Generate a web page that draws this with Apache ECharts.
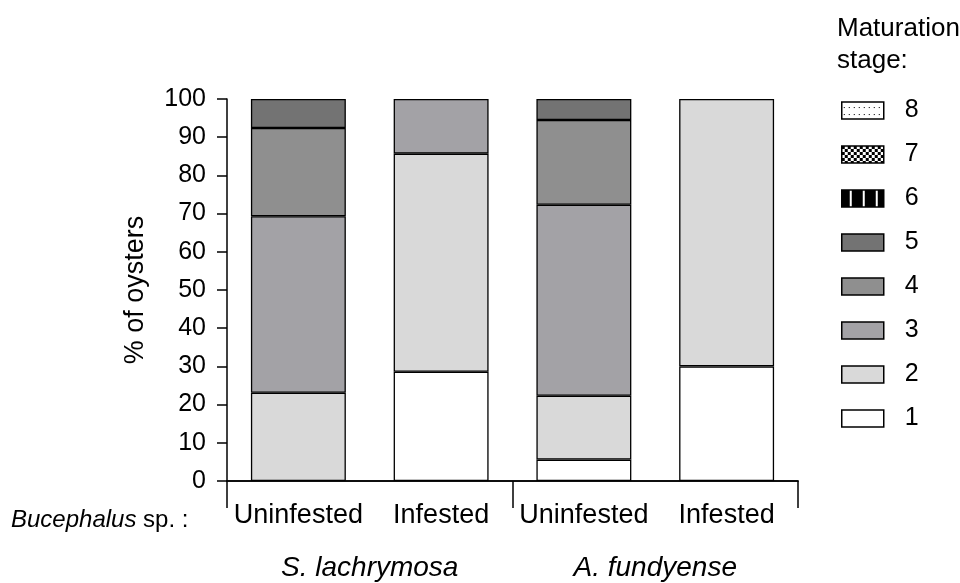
<!DOCTYPE html>
<html>
<head>
<meta charset="utf-8">
<script src="https://cdn.jsdelivr.net/npm/echarts@6/dist/echarts.min.js"></script>
<style>
html,body{margin:0;padding:0;background:#fff;}
#chart{width:960px;height:583px;}
</style>
</head>
<body>
<div id="chart"></div>
<script>
// ---- data ----
const categories = ['Uninfested', 'Infested', 'Uninfested', 'Infested'];
const groups = ['S. lachrymosa', 'A. fundyense'];
const stageNames = ['1', '2', '3', '4', '5', '6', '7', '8'];
const stage1 = [0, 28.6, 5.6, 30];
const stage2 = [23.1, 57.1, 16.7, 70];
const stage3 = [46.2, 14.3, 50.0, 0];
const stage4 = [23.1, 0, 22.2, 0];
const stage5 = [7.6, 0, 5.5, 0];
const stage6 = [0, 0, 0, 0];
const stage7 = [0, 0, 0, 0];
const stage8 = [0, 0, 0, 0];
const yTicks = { min: 0, max: 100, interval: 10 };

// ---- patterns ----
function makePattern(w, h, draw) {
  const c = document.createElement('canvas');
  c.width = w; c.height = h;
  const ctx = c.getContext('2d');
  draw(ctx);
  return { image: c, repeat: 'repeat' };
}
const stripes = makePattern(13, 13, ctx => {
  ctx.fillStyle = '#000'; ctx.fillRect(0, 0, 13, 13);
  ctx.fillStyle = '#fff'; ctx.fillRect(8, 0, 2, 13);
});
const checker = makePattern(6, 6, ctx => {
  ctx.fillStyle = '#fff'; ctx.fillRect(0, 0, 6, 6);
  ctx.fillStyle = '#000'; ctx.fillRect(0, 0, 3, 3); ctx.fillRect(3, 3, 3, 3);
});
const dots = makePattern(5, 7, ctx => {
  ctx.fillStyle = '#fff'; ctx.fillRect(0, 0, 5, 7);
  ctx.fillStyle = '#000'; ctx.fillRect(2, 5, 1, 1);
});

const stageData = [stage1, stage2, stage3, stage4, stage5, stage6, stage7, stage8];
const stageColors = ['#ffffff', '#d9d9d9', '#a3a2a6', '#8f8f8f', '#737373', stripes, checker, dots];

const FONT = 'Liberation Sans, Arial, sans-serif';

const series = stageNames.map((name, i) => ({
  name: name,
  type: 'bar',
  stack: 'total',
  xAxisIndex: 0,
  barCategoryGap: '33.5%',
  // empty (zero) segments are not drawn
  data: stageData[i].map(v => (v === 0 ? null : v)),
  itemStyle: { color: stageColors[i], borderColor: '#000', borderWidth: 1.3 },
  emphasis: { disabled: true },
  animation: false
}));

const chart = echarts.init(document.getElementById('chart'), null, { renderer: 'canvas' });
chart.setOption({
  animation: false,
  backgroundColor: '#fff',
  textStyle: { fontFamily: FONT, color: '#000' },
  title: [
    {
      text: 'Maturation\nstage:',
      left: 832, top: 8,
      textStyle: { fontFamily: FONT, fontSize: 26, fontWeight: 'normal', color: '#000', lineHeight: 32 }
    },
    {
      text: '{i|Bucephalus} sp. :',
      left: 6, top: 503,
      textStyle: {
        fontFamily: FONT, fontSize: 24, fontWeight: 'normal', color: '#000',
        rich: { i: { fontFamily: FONT, fontSize: 24, fontStyle: 'italic', color: '#000' } }
      }
    }
  ],
  legend: {
    orient: 'vertical',
    left: 836, top: 93,
    data: stageNames.slice().reverse(),
    icon: 'rect',
    itemWidth: 42, itemHeight: 17,
    itemGap: 19,
    selectedMode: false,
    textStyle: { fontFamily: FONT, fontSize: 25, color: '#000', padding: [0, 0, 0, 16], lineHeight: 24 },
    itemStyle: { borderColor: '#000', borderWidth: 1.5 }
  },
  grid: { left: 227, right: 162, top: 99, bottom: 102, containLabel: false, outerBoundsMode: 'none' },
  xAxis: [
    {
      type: 'category',
      data: categories,
      position: 'bottom',
      axisLine: { show: true, lineStyle: { color: '#000', width: 1.5 } },
      axisTick: { show: false },
      axisLabel: { fontFamily: FONT, fontSize: 27, color: '#000', margin: 21, interval: 0 }
    },
    {
      type: 'category',
      data: groups,
      position: 'bottom',
      axisLine: { show: true, lineStyle: { color: '#000', width: 1.5 } },
      axisTick: { show: true, length: 27, lineStyle: { color: '#000', width: 1.5 } },
      axisLabel: { fontFamily: FONT, fontSize: 28, fontStyle: 'italic', color: '#000', margin: 73, interval: 0 }
    }
  ],
  yAxis: {
    type: 'value',
    min: yTicks.min, max: yTicks.max, interval: yTicks.interval,
    name: '% of oysters',
    nameLocation: 'middle',
    nameGap: 78,
    nameRotate: 90,
    nameTextStyle: { fontFamily: FONT, fontSize: 27, color: '#000' },
    axisLine: { show: true, lineStyle: { color: '#000', width: 1.5 } },
    axisTick: { show: true, length: 10, lineStyle: { color: '#000', width: 1.5 } },
    axisLabel: { fontFamily: FONT, fontSize: 25, color: '#000', margin: 21 },
    splitLine: { show: false }
  },
  series: series
});
</script>
</body>
</html>
